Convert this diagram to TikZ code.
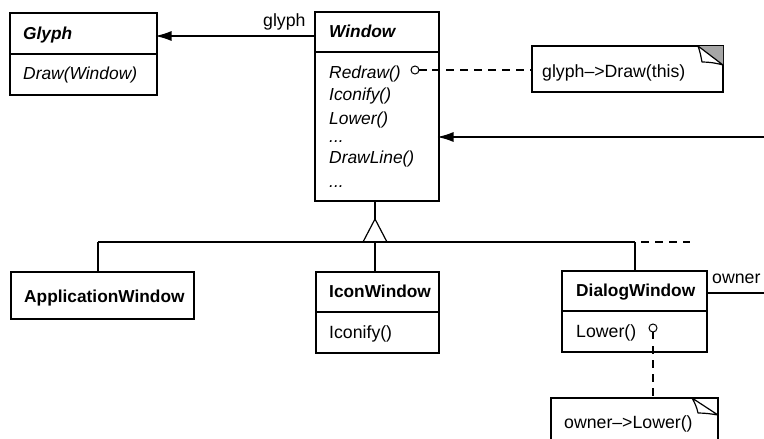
\documentclass[tikz,border=0pt]{standalone}
\usepackage{fontspec}
\setmainfont{Liberation Sans}
\usetikzlibrary{arrows.meta}
\tikzset{
  x=1pt,y=-1pt,
  comp/.style={draw,line width=1.2pt,anchor=north west,inner sep=0pt,outer sep=0pt},
  lbl/.style={anchor=base west,inner sep=0pt,font=\fontsize{17.7}{20}\selectfont},
  cname/.style={lbl,font=\fontsize{17.3}{20}\selectfont\bfseries},
  aname/.style={lbl,font=\fontsize{17.3}{20}\selectfont\bfseries\itshape},
  oper/.style={lbl,font=\fontsize{17.4}{20}\selectfont\itshape},
  assoc/.style={line width=1.2pt,shorten >=-1.5pt,-{Latex[length=16pt,width=10pt]}},
  conn/.style={line width=1.2pt},
  dashline/.style={line width=1.2pt,dash pattern=on 8pt off 6pt},
  pin/.style={draw,circle,line width=1pt,minimum size=8pt,inner sep=0pt,outer sep=0pt},
  foldshade/.style={fill=black!35,draw=none},
  foldline/.style={line width=1.2pt,line join=round},
}
\begin{document}
\begin{tikzpicture}
\useasboundingbox (0,0) rectangle (764,439);
% Glyph
\node[comp,minimum width=147pt,minimum height=41pt] (glyphhead) at (10,13) {};
\node[comp,minimum width=147pt,minimum height=41pt] (glyphbody) at (10,54) {};
\node[aname] (glyphname) at (23,39) {Glyph};
\node[oper] (glyphdraw) at (23,79) {Draw(Window)};
% Window
\node[comp,minimum width=124pt,minimum height=40pt] (winhead) at (315,12) {};
\node[comp,minimum width=124pt,minimum height=149pt] (winbody) at (315,52) {};
\node[aname] (winname) at (329,37) {Window};
\node[oper] (redraw) at (329,78) {Redraw()};
\node[oper] (iconify) at (329,100) {Iconify()};
\node[oper] (lower) at (329,124) {Lower()};
\node[oper] (dotsa) at (329,142) {...};
\node[oper] (drawline) at (329,163) {DrawLine()};
\node[oper] (dotsb) at (329,187) {...};
\node[pin] (redrawpin) at (415,70) {};
% Note 1
\node[comp,minimum width=191pt,minimum height=46pt] (noteone) at (532,46) {};
\node[lbl] (noteonetext) at (542,77) {glyph–>Draw(this)};
\fill[foldshade] (698,46) -- (723,46) -- (723,65) -- cycle;
\draw[foldline] (698,46) .. controls (700,51) and (701,57) .. (702,62) .. controls (709,62) and (716,63) .. (723,65) -- cycle;
% Subclasses
\node[comp,minimum width=183pt,minimum height=47pt] (appwin) at (11,272) {};
\node[cname] (appname) at (24,302) {ApplicationWindow};
\node[comp,minimum width=123pt,minimum height=40pt] (iconhead) at (316,272) {};
\node[comp,minimum width=123pt,minimum height=41pt] (iconbody) at (316,312) {};
\node[cname] (iconname) at (329,297) {IconWindow};
\node[lbl] (iconop) at (329,338) {Iconify()};
\node[comp,minimum width=145pt,minimum height=40pt] (dlghead) at (562,271) {};
\node[comp,minimum width=145pt,minimum height=41pt] (dlgbody) at (562,311) {};
\node[cname] (dlgname) at (576,296) {DialogWindow};
\node[lbl] (dlgop) at (576,337) {Lower()};
\node[pin] (lowerpin) at (653,328) {};
% Note 2
\node[comp,minimum width=167pt,minimum height=46pt] (notetwo) at (551,398) {};
\node[lbl] (notetwotext) at (564,428) {owner–>Lower()};
\draw[foldline] (692,398) .. controls (695,403) and (697,408) .. (698,413) .. controls (705,413) and (712,414) .. (718,415) -- cycle;
% Labels
\node[lbl] (glyphrole) at (263,27) {glyph};
\node[lbl] (ownerrole) at (712,283) {owner};
% Free ends and junctions
\coordinate (glyphto) at (157,36);
\coordinate (glyphfrom) at (315,36);
\coordinate (edgeright) at (764,137);
\coordinate (edgeleft) at (439,137);
\coordinate (ownerfrom) at (707,293);
\coordinate (ownerto) at (764,293);
\coordinate (apex) at (375,219);
\coordinate (baseleft) at (363,242);
\coordinate (baseright) at (387,242);
\coordinate (busa) at (98,242);
\coordinate (busb) at (375,242);
\coordinate (busc) at (635,242);
\coordinate (busdstart) at (641,242);
\coordinate (busd) at (690,242);
\coordinate (winbot) at (375,201);
\coordinate (appup) at (98,272);
\coordinate (iconup) at (375,272);
\coordinate (dlgup) at (635,271);
\coordinate (redrawstub) at (427,70);
\coordinate (redrawdash) at (432,70);
\coordinate (noteoneleft) at (532,70);
\coordinate (lowerstub) at (653,339);
\coordinate (lowerdash) at (653,346);
\coordinate (notetwoup) at (653,398);
% Connectors
\draw[assoc] (glyphfrom) -- (glyphto);
\draw[assoc] (edgeright) -- (edgeleft);
\draw[conn] (ownerfrom) -- (ownerto);
\draw[conn] (winbot) -- (apex);
\draw[conn] (apex) -- (baseleft) -- (baseright) -- cycle;
\draw[conn] (busa) -- (busc);
\draw[dashline] (busdstart) -- (busd);
\draw[conn] (busa) -- (appup);
\draw[conn] (busb) -- (iconup);
\draw[conn] (busc) -- (dlgup);
\draw[conn] (redrawpin) -- (redrawstub);
\draw[dashline] (redrawdash) -- (noteoneleft);
\draw[conn] (lowerpin) -- (lowerstub);
\draw[dashline] (lowerdash) -- (notetwoup);
\end{tikzpicture}
\end{document}
